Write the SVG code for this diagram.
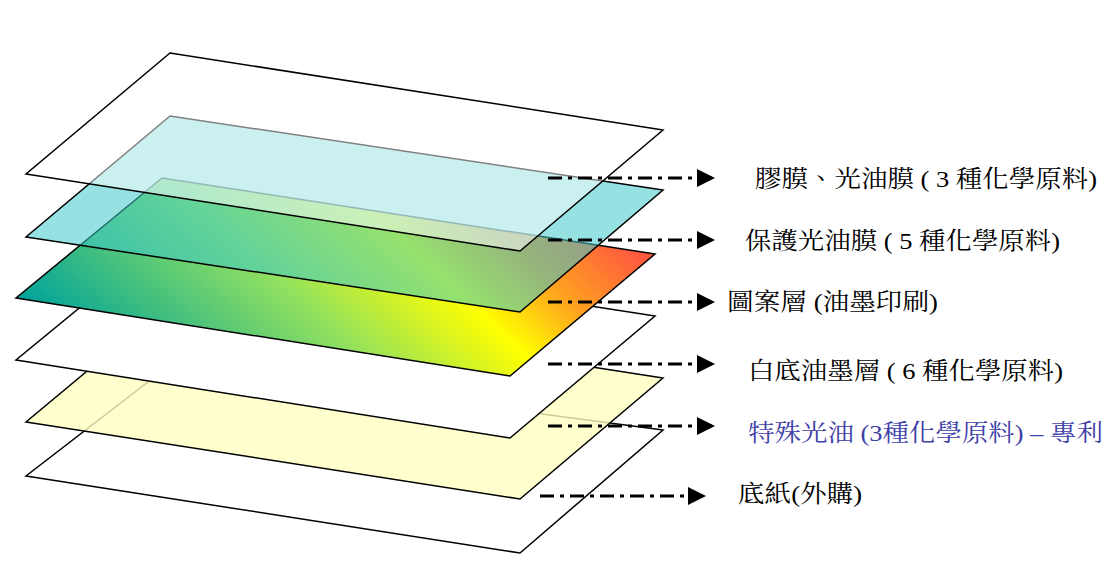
<svg xmlns="http://www.w3.org/2000/svg" width="1114" height="575" viewBox="0 0 1114 575">
<style>
.s{stroke:#000;stroke-width:1.5;stroke-linejoin:miter}
.c{stroke:#000;stroke-width:3;stroke-dasharray:14 6 4 6;fill:none}
.t{font-family:"Liberation Serif","Noto Serif CJK TC","Noto Sans CJK TC",serif;font-size:24px;fill:#000}
</style>
<defs>
<marker id="a" markerWidth="6" markerHeight="6" refX="5" refY="3" orient="auto" markerUnits="strokeWidth"><path d="M0,0 L6,3 L0,6 Z" fill="#000"/></marker>
<linearGradient id="g" gradientUnits="userSpaceOnUse" x1="120" y1="390" x2="440" y2="50">
<stop offset="0" stop-color="#00a39a"/><stop offset="0.4" stop-color="#90e060"/><stop offset="0.65" stop-color="#ffff00"/><stop offset="0.8" stop-color="#ffa020"/><stop offset="0.97" stop-color="#ff5a40"/>
</linearGradient>
</defs>
<rect width="1114" height="575" fill="#fff"/>
<g id="paper"><polygon class="s" fill="#fff" points="170,365 663,430 520,553 26,476"/></g>
<g id="special"><polygon class="s" fill="#ffffc0" fill-opacity="0.8" points="170,302 663,378 520,499 26,422"/></g>
<g id="whiteink"><polygon class="s" fill="#fff" points="162,240 655,316 510,438 16,360"/></g>
<g id="pattern"><polygon class="s" fill="url(#g)" points="162,178 655,254 510,376 16,298"/></g>
<g id="protect"><polygon class="s" fill="#40c8c8" fill-opacity="0.55" points="170,116 663,190 520,312 26,237"/></g>
<g id="film"><polygon class="s" fill="#fff" fill-opacity="0.5" points="170,53 663,130 520,251 26,174"/></g>
<g id="connectors">
<line class="c" x1="548" y1="178" x2="712" y2="178" marker-end="url(#a)"/>
<line class="c" x1="548" y1="240" x2="712" y2="240" marker-end="url(#a)"/>
<line class="c" x1="548" y1="302" x2="712" y2="302" marker-end="url(#a)"/>
<line class="c" x1="548" y1="364" x2="712" y2="364" marker-end="url(#a)"/>
<line class="c" x1="548" y1="426" x2="712" y2="426" marker-end="url(#a)"/>
<line class="c" x1="540" y1="496" x2="703" y2="496" marker-end="url(#a)"/>
</g>
<g id="labels">
<text class="t" x="755" y="187" textLength="342" lengthAdjust="spacingAndGlyphs">膠膜、光油膜 ( 3 種化學原料)</text>
<text class="t" x="745" y="249" textLength="315" lengthAdjust="spacingAndGlyphs">保護光油膜 ( 5 種化學原料)</text>
<text class="t" x="727" y="310" textLength="211" lengthAdjust="spacingAndGlyphs">圖案層 (油墨印刷)</text>
<text class="t" x="748" y="379" textLength="315" lengthAdjust="spacingAndGlyphs">白底油墨層 ( 6 種化學原料)</text>
<text class="t" x="748" y="441" textLength="355" lengthAdjust="spacingAndGlyphs" style="fill:#4040a8">特殊光油 (3種化學原料) – 專利</text>
<text class="t" x="738" y="502" textLength="124" lengthAdjust="spacingAndGlyphs">底紙(外購)</text>
</g>
</svg>
